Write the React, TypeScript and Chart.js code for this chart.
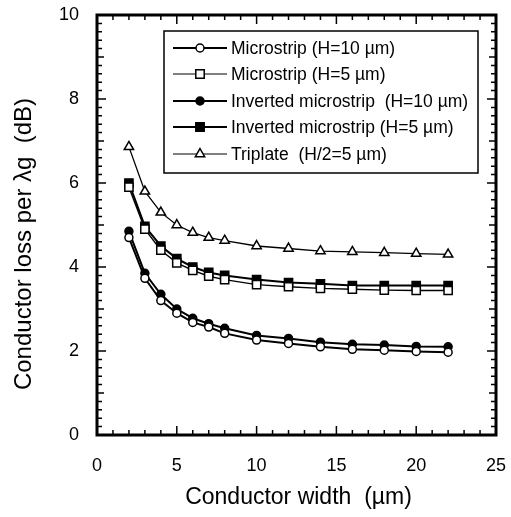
import { useEffect, useRef } from "react";
import { Chart, registerables } from "chart.js";

Chart.register(...registerables);

// Conductor width (µm)
const widths = [2, 3, 4, 5, 6, 7, 8, 10, 12, 14, 16, 18, 20, 22];

// Conductor loss per λg (dB)
const microstripH10 = [4.7, 3.73, 3.2, 2.9, 2.68, 2.57, 2.42, 2.26, 2.18, 2.1, 2.04, 2.02, 1.99, 1.97];
const microstripH5 = [5.9, 4.9, 4.4, 4.1, 3.92, 3.78, 3.7, 3.58, 3.53, 3.49, 3.47, 3.45, 3.44, 3.44];
const invertedH10 = [4.85, 3.85, 3.35, 3.0, 2.78, 2.65, 2.54, 2.37, 2.3, 2.21, 2.16, 2.14, 2.11, 2.1];
const invertedH5 = [6.0, 4.97, 4.5, 4.2, 4.0, 3.87, 3.8, 3.7, 3.63, 3.6, 3.56, 3.56, 3.56, 3.56];
const triplate = [6.86, 5.8, 5.3, 5.0, 4.82, 4.7, 4.63, 4.5, 4.44, 4.38, 4.36, 4.34, 4.32, 4.3];

const seriesLabels = [
  "Microstrip (H=10 \u00b5m)",
  "Microstrip (H=5 \u00b5m)",
  "Inverted microstrip  (H=10 \u00b5m)",
  "Inverted microstrip (H=5 \u00b5m)",
  "Triplate  (H/2=5 \u00b5m)",
];

const xTitle = "Conductor width  (\u00b5m)";
const yTitle = "Conductor loss per \u03bbg  (dB)";

const FONT = '"Liberation Sans", Arial, Helvetica, sans-serif';

type Marker = "circle" | "rect" | "triangle";
const markers: Marker[] = ["circle", "rect", "circle", "rect", "triangle"];
const filled = [false, false, true, true, false];
const lineWidths = [2, 1.4, 2, 2, 1.3];
const legendLineWidths = [2, 1.2, 2, 2, 1.2];
const pointRadii = [4, 5.8, 4, 5.8, 5.4];

function drawMarker(ctx: CanvasRenderingContext2D, kind: Marker, x: number, y: number, fill: boolean) {
  ctx.save();
  ctx.beginPath();
  if (kind === "circle") {
    ctx.arc(x, y, 4, 0, Math.PI * 2);
  } else if (kind === "rect") {
    ctx.rect(x - 4.2, y - 4.2, 8.4, 8.4);
  } else {
    const r = 5.4;
    ctx.moveTo(x, y - r);
    ctx.lineTo(x + r * Math.sin((2 * Math.PI) / 3), y - r * Math.cos((2 * Math.PI) / 3));
    ctx.lineTo(x + r * Math.sin((4 * Math.PI) / 3), y - r * Math.cos((4 * Math.PI) / 3));
    ctx.closePath();
  }
  ctx.fillStyle = fill ? "#000" : "#fff";
  ctx.fill();
  ctx.lineWidth = 1.5;
  ctx.strokeStyle = "#000";
  ctx.stroke();
  ctx.restore();
}

const decorations = {
  id: "paperFrame",
  afterDraw(chart: any) {
    const { ctx, chartArea } = chart;
    const { left, right, top, bottom } = chartArea;
    const xs = chart.scales.x;
    const ys = chart.scales.y;
    ctx.save();
    ctx.strokeStyle = "#000";

    // inward ticks on all four sides
    ctx.lineWidth = 1.5;
    ctx.beginPath();
    for (let v = 0; v <= 25; v++) {
      const px = xs.getPixelForValue(v);
      const len = v % 5 === 0 ? 9 : 5;
      ctx.moveTo(px, bottom);
      ctx.lineTo(px, bottom - len);
      ctx.moveTo(px, top);
      ctx.lineTo(px, top + len);
    }
    for (let i = 0; i <= 50; i++) {
      const v = i / 5;
      const py = ys.getPixelForValue(v);
      const len = i % 10 === 0 ? 9 : i % 5 === 0 ? 7 : 5;
      ctx.moveTo(left, py);
      ctx.lineTo(left + len, py);
      ctx.moveTo(right, py);
      ctx.lineTo(right - len, py);
    }
    ctx.stroke();

    // plot frame
    ctx.lineWidth = 3;
    ctx.strokeRect(left, top, right - left, bottom - top);

    // axis titles
    ctx.fillStyle = "#000";
    ctx.textAlign = "center";
    ctx.textBaseline = "middle";
    ctx.font = `23px ${FONT}`;
    ctx.fillText(xTitle, (left + right) / 2 + 2, 498);
    ctx.save();
    ctx.translate(24, 244);
    ctx.rotate(-Math.PI / 2);
    ctx.font = `24px ${FONT}`;
    ctx.fillText(yTitle, 0, 0);
    ctx.restore();

    // legend box
    const bx = 164, by = 31, bw = 314, bh = 142;
    ctx.fillStyle = "#fff";
    ctx.fillRect(bx, by, bw, bh);
    ctx.lineWidth = 1.5;
    ctx.strokeRect(bx, by, bw, bh);
    const rows = [48, 74, 101, 127, 154];
    ctx.font = `17.5px ${FONT}`;
    ctx.textAlign = "left";
    seriesLabels.forEach((label, i) => {
      const y = rows[i];
      ctx.beginPath();
      ctx.lineWidth = legendLineWidths[i];
      ctx.moveTo(173, y);
      ctx.lineTo(227, y);
      ctx.stroke();
      drawMarker(ctx, markers[i], 200, y, filled[i]);
      ctx.fillStyle = "#000";
      ctx.fillText(label, 231, y + 1);
    });
    ctx.restore();
  },
};

export default function App() {
  const canvasRef = useRef<HTMLCanvasElement | null>(null);

  useEffect(() => {
    const seriesValues = [microstripH10, microstripH5, invertedH10, invertedH5, triplate];
    const datasets = seriesValues.map((vals, i) => ({
      label: seriesLabels[i],
      data: widths.map((w, j) => ({ x: w, y: vals[j] })),
      borderColor: "#000",
      borderWidth: lineWidths[i],
      backgroundColor: filled[i] ? "#000" : "#fff",
      pointBackgroundColor: filled[i] ? "#000" : "#fff",
      pointBorderColor: "#000",
      pointBorderWidth: 1.5,
      pointStyle: markers[i],
      pointRadius: pointRadii[i],
      tension: 0,
      fill: false,
    }));

    const chart = new Chart(canvasRef.current as HTMLCanvasElement, {
      type: "line",
      data: { datasets },
      plugins: [decorations],
      options: {
        animation: false,
        responsive: true,
        maintainAspectRatio: false,
        layout: { padding: { left: 0, top: 15, right: 15, bottom: 0 } },
        plugins: {
          legend: { display: false },
          tooltip: { enabled: false },
        },
        scales: {
          x: {
            type: "linear",
            min: 0,
            max: 25,
            grid: { display: false, drawTicks: false },
            border: { display: false },
            ticks: {
              stepSize: 5,
              padding: 20,
              color: "#000",
              font: { family: FONT, size: 18 },
              maxRotation: 0,
            },
            afterFit: (s: any) => {
              s.height = 82;
              s.paddingLeft = 0;
              s.paddingRight = 0;
            },
          },
          y: {
            type: "linear",
            min: 0,
            max: 10,
            grid: { display: false, drawTicks: false },
            border: { display: false },
            ticks: {
              stepSize: 2,
              padding: 18,
              color: "#000",
              font: { family: FONT, size: 18 },
            },
            afterFit: (s: any) => {
              s.width = 97;
              s.paddingTop = 0;
              s.paddingBottom = 0;
            },
          },
        },
      },
    });
    return () => chart.destroy();
  }, []);

  return (
    <div style={{ position: "fixed", left: 0, top: 0, width: 511, height: 517, background: "#fff" }}>
      <canvas ref={canvasRef} />
    </div>
  );
}
